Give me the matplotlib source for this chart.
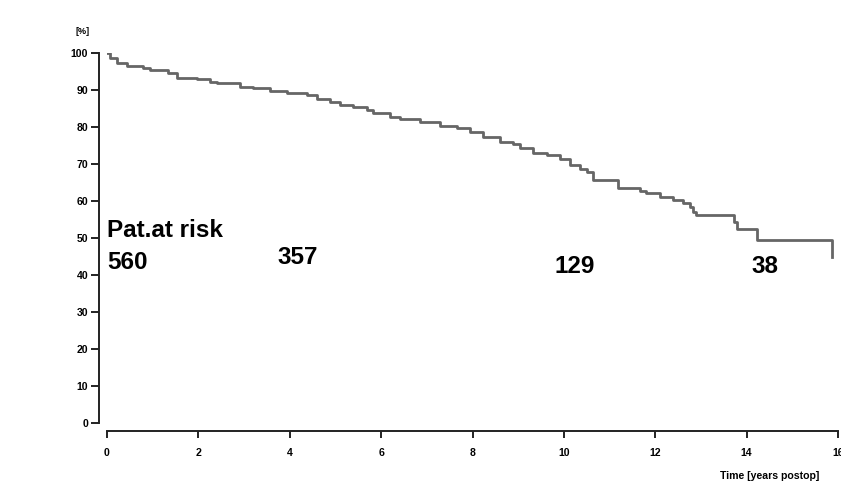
import matplotlib

matplotlib.use("Agg")

import matplotlib.pyplot as plt

# Kaplan-Meier steps (time in years, survival in %)
times = [0.0, 0.07, 0.22, 0.44, 0.79, 0.94, 1.33, 1.53, 1.97, 2.25, 2.41,
         2.91, 3.19, 3.57, 3.94, 4.38, 4.60, 4.88, 5.10, 5.38, 5.69, 5.82,
         6.19, 6.41, 6.85, 7.29, 7.66, 7.94, 8.23, 8.60, 8.88, 9.04, 9.32,
         9.63, 9.91, 10.13, 10.35, 10.50, 10.63, 11.18, 11.66, 11.80, 12.10,
         12.39, 12.60, 12.76, 12.82, 12.90, 13.72, 13.79, 14.22, 15.86]
survival = [100, 98.7, 97.3, 96.6, 95.9, 95.4, 94.5, 93.3, 93.0, 92.2, 91.8,
            90.9, 90.5, 89.7, 89.1, 88.6, 87.7, 86.8, 85.9, 85.5, 84.6, 83.7,
            82.8, 82.2, 81.3, 80.4, 79.6, 78.7, 77.4, 76.0, 75.3, 74.2, 72.9,
            72.3, 71.4, 69.7, 68.6, 67.9, 65.7, 63.5, 62.8, 62.2, 61.1,
            60.3, 59.5, 58.4, 57.0, 56.2, 54.3, 52.4, 49.5, 45.0]

# patients at risk labels
risk_labels = ["560", "357", "129", "38"]
risk_x = [0.0, 3.74, 9.8, 14.1]
risk_y = [43.5, 44.6, 42.2, 42.2]

x_ticks = [0, 2, 4, 6, 8, 10, 12, 14, 16]
y_ticks = [0, 10, 20, 30, 40, 50, 60, 70, 80, 90, 100]

plt.rcParams["font.family"] = ["Liberation Sans", "DejaVu Sans"]

fig = plt.figure(figsize=(8.41, 4.84), dpi=100)
ax = fig.add_axes([107 / 841, 1 - 423 / 484, (838 - 107) / 841, (423 - 53) / 484])

ax.step(times, survival, where="post", color="#666666", linewidth=2.0)

ax.set_xlim(0, 16)
ax.set_ylim(0, 100)

# R-style detached axes
for side in ["top", "right"]:
    ax.spines[side].set_visible(False)
ax.spines["left"].set_position(("outward", 6))
ax.spines["bottom"].set_position(("outward", 6))
ax.spines["left"].set_bounds(0, 100)
ax.spines["bottom"].set_bounds(0, 16)
for side in ["left", "bottom"]:
    ax.spines[side].set_linewidth(1.4)
    ax.spines[side].set_color("#222222")

ax.set_xticks(x_ticks)
ax.set_yticks(y_ticks)
ax.tick_params(axis="both", direction="out", width=1.4, color="#222222",
               labelsize=7.6)
ax.tick_params(axis="y", length=5.5, pad=2)
ax.tick_params(axis="x", length=5, pad=7)
for lbl in ax.get_xticklabels() + ax.get_yticklabels():
    lbl.set_fontweight("bold")

fig.text(75 / 841, 1 - 31 / 484, "[%]", fontsize=6.5, fontweight="bold",
         ha="left", va="center")
fig.text(770 / 841, 1 - 476 / 484, "Time [years postop]", fontsize=7.6,
         fontweight="bold", ha="center", va="center")

ax.text(0.0, 51.9, "Pat.at risk", fontsize=17.5, fontweight="bold",
        ha="left", va="center")
for lab, xx, yy in zip(risk_labels, risk_x, risk_y):
    ax.text(xx, yy, lab, fontsize=17.5, fontweight="bold", ha="left", va="center")

plt.savefig("out.png", dpi=100)
plt.close()
